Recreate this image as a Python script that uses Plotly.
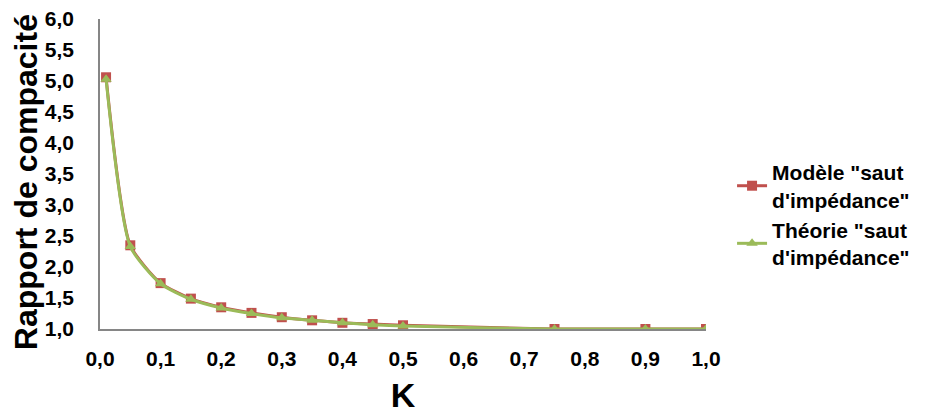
import plotly.graph_objects as go

k_values = [0.01, 0.05, 0.10, 0.15, 0.20, 0.25, 0.30, 0.35, 0.40, 0.45, 0.50, 0.75, 0.90, 1.00]
modele_values = [5.06, 2.35, 1.74, 1.49, 1.35, 1.26, 1.19, 1.14, 1.10, 1.08, 1.06, 1.00, 1.00, 1.00]
theorie_values = [5.03, 2.33, 1.73, 1.48, 1.34, 1.25, 1.18, 1.14, 1.10, 1.07, 1.05, 1.00, 1.00, 1.00]
x_ticks = [0.0, 0.1, 0.2, 0.3, 0.4, 0.5, 0.6, 0.7, 0.8, 0.9, 1.0]
y_ticks = [1.0, 1.5, 2.0, 2.5, 3.0, 3.5, 4.0, 4.5, 5.0, 5.5, 6.0]

font_fam = "Liberation Sans, Arial, sans-serif"

fig = go.Figure()
fig.add_trace(go.Scatter(
    x=k_values, y=modele_values, mode="lines+markers",
    name='<b>Modèle "saut<br>d\'impédance"</b>',
    line=dict(color="#C0504D", width=3, shape="spline", smoothing=0.6),
    marker=dict(symbol="square", size=10, color="#C0504D"),
))
fig.add_trace(go.Scatter(
    x=k_values, y=theorie_values, mode="lines+markers",
    name='<b>Théorie "saut<br>d\'impédance"</b>',
    line=dict(color="#9BBB59", width=3, shape="spline", smoothing=0.6),
    marker=dict(symbol="triangle-up", size=10, color="#9BBB59"),
))

fig.update_layout(
    width=920, height=406,
    margin=dict(l=92, r=222, t=11, b=85),
    paper_bgcolor="white", plot_bgcolor="white",
    font=dict(family=font_fam, color="black"),
    showlegend=True,
    legend=dict(x=1.043, y=0.368, xanchor="left", yanchor="middle",
                font=dict(size=21, family=font_fam, color="black"),
                tracegroupgap=12, itemwidth=30, bgcolor="rgba(0,0,0,0)"),
    annotations=[dict(
        text="<b>Rapport de compacité</b>", xref="paper", yref="paper",
        x=-0.122, y=0.474, xanchor="center", yanchor="middle",
        textangle=-90, showarrow=False,
        font=dict(size=32, family=font_fam, color="black"),
    )],
)
fig.update_xaxes(
    range=[0, 1], tickvals=x_ticks, automargin=False,
    ticktext=[f"{v:.1f}".replace(".", ",") for v in x_ticks],
    showgrid=False, zeroline=False, showline=True, linecolor="#868686", linewidth=1.5,
    ticks="", tickfont=dict(size=21, family=font_fam, color="black", weight="bold"),
    ticklabelstandoff=10, ticklabeloverflow="allow",
    title=dict(text="<b>K</b>", font=dict(size=34, family=font_fam, color="black"), standoff=17),
)
fig.update_yaxes(
    range=[1, 6], tickvals=y_ticks, automargin=False,
    ticktext=[f"{v:.1f}".replace(".", ",") for v in y_ticks],
    showgrid=False, zeroline=False, showline=True, linecolor="#868686", linewidth=1.5,
    ticks="", tickfont=dict(size=21, family=font_fam, color="black", weight="bold"),
    ticklabelstandoff=20, ticklabeloverflow="allow",
)

fig.write_html("out.html")
